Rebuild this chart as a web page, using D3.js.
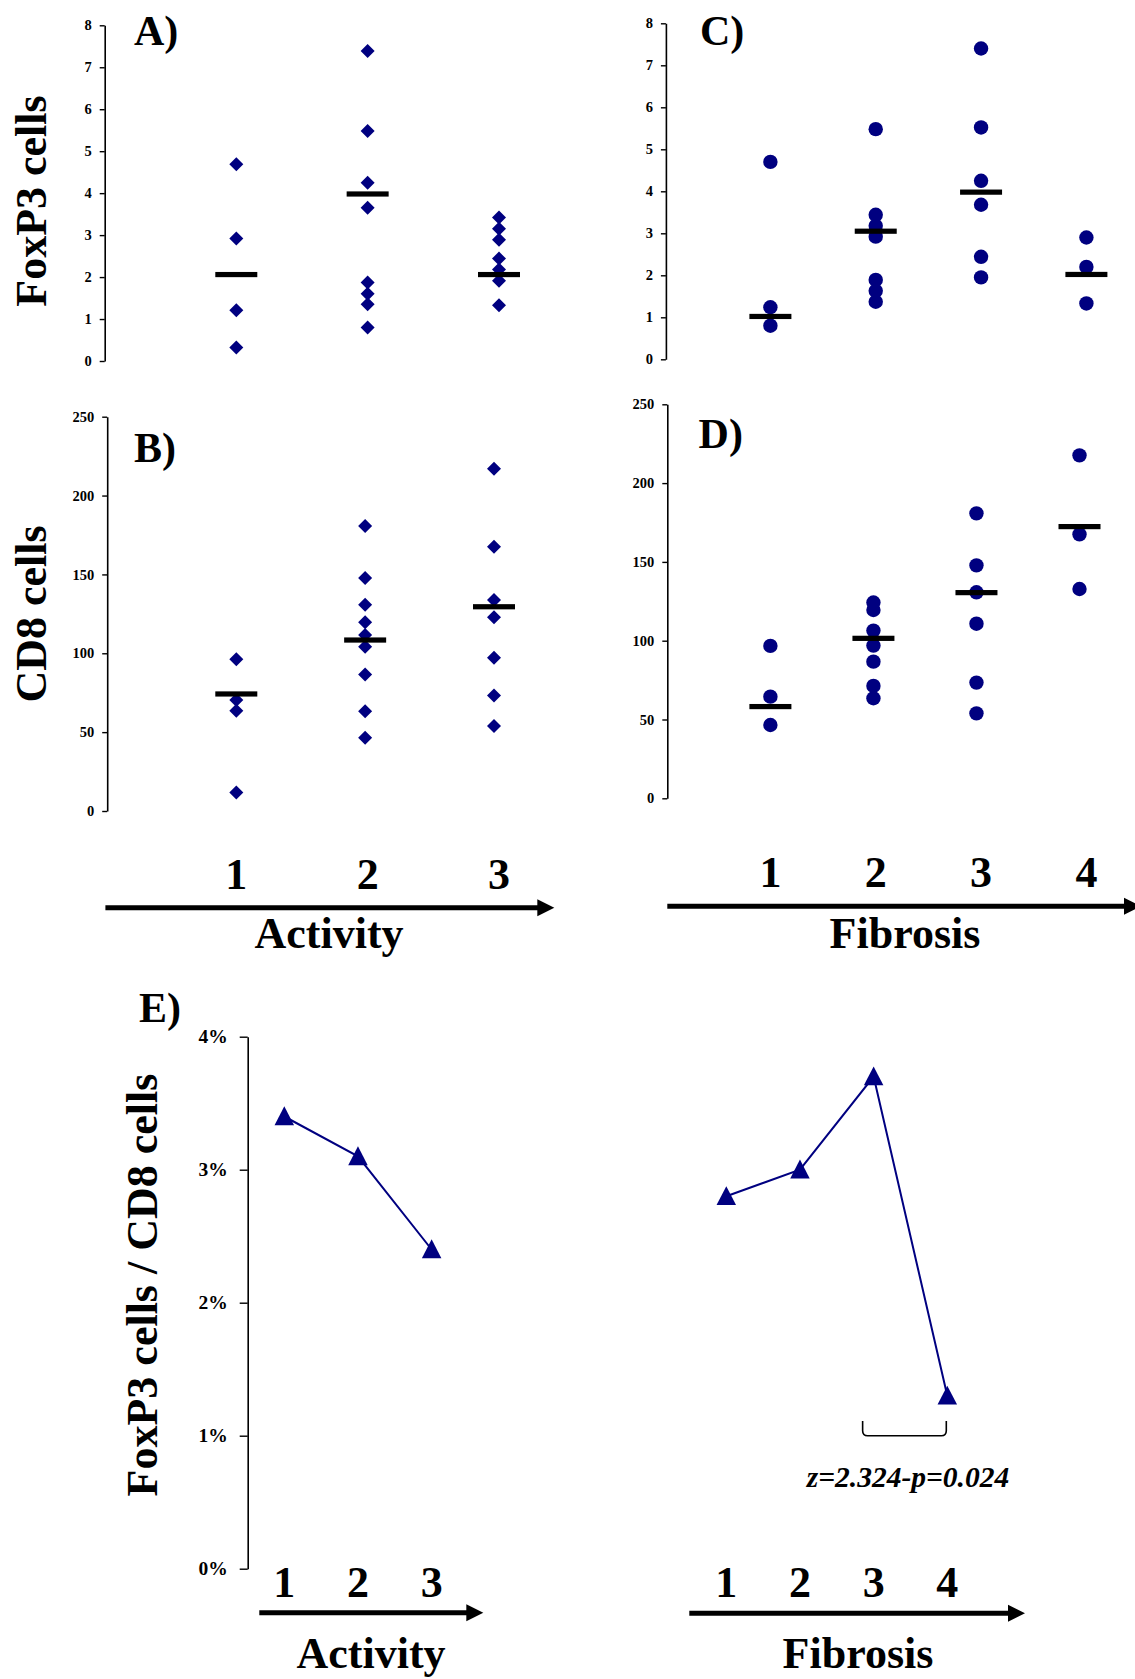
<!DOCTYPE html>
<html><head><meta charset="utf-8">
<script src="https://cdn.jsdelivr.net/npm/d3@7"></script>
<style>
body{margin:0;background:#fff}
svg{display:block}
text{font-family:"Liberation Serif","Times New Roman",serif;font-weight:bold;fill:#000}
</style>
</head><body>
<svg id="c" width="1135" height="1679"></svg>
<script>
// ---------------- data ----------------
const activityCats = ["1", "2", "3"];
const fibrosisCats = ["1", "2", "3", "4"];

const foxp3Ticks = [0, 1, 2, 3, 4, 5, 6, 7, 8];
const cd8Ticks = [0, 50, 100, 150, 200, 250];
const ratioTicks = [0, 0.01, 0.02, 0.03, 0.04];

const foxp3ByActivity = [
  [4.69, 2.92, 1.21, 0.32],
  [7.39, 5.48, 4.25, 3.65, 1.87, 1.60, 1.35, 0.80],
  [3.42, 3.15, 2.89, 2.44, 2.18, 1.91, 1.33]
];
const foxp3ActivityBar = [2.06, 3.98, 2.06];

const foxp3ByFibrosis = [
  [4.70, 1.24, 0.80],
  [5.48, 3.44, 3.18, 2.92, 1.89, 1.63, 1.37],
  [7.40, 5.52, 4.25, 3.68, 2.44, 1.95],
  [2.90, 2.20, 1.33]
];
const foxp3FibrosisBar = [1.02, 3.05, 3.98, 2.02];

const cd8ByActivity = [
  [96.2, 70.4, 63.6, 11.8],
  [180.7, 147.7, 130.8, 119.6, 111.6, 104.2, 86.6, 63.2, 46.5],
  [217.0, 167.6, 133.8, 122.8, 97.2, 73.3, 53.9]
];
const cd8ActivityBar = [74.2, 108.4, 129.5];

const cd8ByFibrosis = [
  [96.7, 64.5, 46.5],
  [124.2, 119.5, 106.4, 96.9, 86.7, 71.3, 63.5],
  [180.8, 147.8, 130.7, 110.8, 73.4, 53.9],
  [217.6, 167.5, 132.8]
];
const cd8FibrosisBar = [58.2, 101.5, 130.5, 172.4];

const ratioActivity = [0.034, 0.031, 0.024];
const ratioFibrosis = [0.028, 0.030, 0.037, 0.013];

const annotationText = "z=2.324-p=0.024";

// ---------------- drawing ----------------
const svg = d3.select("#c");
const NAVY = "#000080";

const diamondType = {
  draw(ctx, size) {
    const r = Math.sqrt(size) / 2;
    ctx.moveTo(0, -r); ctx.lineTo(r, 0); ctx.lineTo(0, r); ctx.lineTo(-r, 0); ctx.closePath();
  }
};
const triangleType = {
  draw(ctx, size) {
    const w = Math.sqrt(size);
    ctx.moveTo(0, -w * 0.52); ctx.lineTo(w / 2, w * 0.45); ctx.lineTo(-w / 2, w * 0.45); ctx.closePath();
  }
};

function scatterPanel(cfg) {
  const g = svg.append("g");
  const x = d3.scalePoint().domain(cfg.cats).range(cfg.xRange);
  const y = d3.scaleLinear().domain(cfg.yDomain).range(cfg.yRange);
  const ax = g.append("g")
    .attr("transform", `translate(${cfg.axisX},0)`)
    .call(d3.axisLeft(y).tickValues(cfg.ticks).tickSize(5).tickSizeOuter(0).tickPadding(8));
  ax.select(".domain").attr("stroke", "#000").attr("stroke-width", 1.6);
  ax.selectAll(".tick line").attr("stroke", "#000").attr("stroke-width", 1.4);
  ax.selectAll(".tick text").attr("font-size", 14.5).attr("font-family", "Liberation Serif").attr("font-weight", "bold").attr("fill", "#000");

  const pts = [];
  cfg.data.forEach((arr, i) => arr.forEach(v => pts.push({ c: cfg.cats[i], v })));
  if (cfg.shape === "diamond") {
    g.selectAll("path.pt").data(pts).join("path").attr("class", "pt")
      .attr("d", d3.symbol().type(diamondType).size(196))
      .attr("transform", d => `translate(${x(d.c)},${y(d.v)})`)
      .attr("fill", NAVY);
  } else {
    g.selectAll("circle.pt").data(pts).join("circle").attr("class", "pt")
      .attr("cx", d => x(d.c)).attr("cy", d => y(d.v)).attr("r", 7.2)
      .attr("fill", NAVY);
  }
  g.selectAll("rect.bar").data(cfg.bars).join("rect").attr("class", "bar")
    .attr("x", (d, i) => x(cfg.cats[i]) - 21).attr("width", 42)
    .attr("y", d => y(d) - 2.6).attr("height", 5.2)
    .attr("fill", "#000");

  g.append("text").attr("x", cfg.labelPos[0]).attr("y", cfg.labelPos[1])
    .attr("font-size", 42).text(cfg.label);
  return x;
}

const xA = scatterPanel({
  cats: activityCats, xRange: [236.3, 499], yDomain: [0, 8], yRange: [361, 25.3],
  axisX: 104.7, ticks: foxp3Ticks, data: foxp3ByActivity, bars: foxp3ActivityBar,
  shape: "diamond", label: "A)", labelPos: [134, 45]
});
scatterPanel({
  cats: activityCats, xRange: [236.3, 494], yDomain: [0, 250], yRange: [811, 416.7],
  axisX: 107.2, ticks: cd8Ticks, data: cd8ByActivity, bars: cd8ActivityBar,
  shape: "diamond", label: "B)", labelPos: [134, 462]
});
const xC = scatterPanel({
  cats: fibrosisCats, xRange: [770.4, 1086.4], yDomain: [0, 8], yRange: [359.3, 23.3],
  axisX: 665.9, ticks: foxp3Ticks, data: foxp3ByFibrosis, bars: foxp3FibrosisBar,
  shape: "circle", label: "C)", labelPos: [700, 45]
});
scatterPanel({
  cats: fibrosisCats, xRange: [770.4, 1079.5], yDomain: [0, 250], yRange: [798.3, 404.3],
  axisX: 667.3, ticks: cd8Ticks, data: cd8ByFibrosis, bars: cd8FibrosisBar,
  shape: "circle", label: "D)", labelPos: [698.6, 448]
});

// y titles
function yTitle(text, xb, yc) {
  svg.append("text").attr("transform", `translate(${xb},${yc}) rotate(-90)`)
    .attr("text-anchor", "middle").attr("font-size", 44).text(text);
}
yTitle("FoxP3 cells", 46, 201);
yTitle("CD8 cells", 46, 614);
yTitle("FoxP3 cells / CD8 cells", 157, 1285);

// arrows
function arrow(x0, x1, y) {
  svg.append("line").attr("x1", x0).attr("x2", x1 - 14).attr("y1", y).attr("y2", y)
    .attr("stroke", "#000").attr("stroke-width", 5);
  svg.append("path").attr("d", `M${x1},${y}L${x1 - 17},${y - 8.5}L${x1 - 17},${y + 8.5}Z`).attr("fill", "#000");
}
function catLabels(xs, cats, y, size) {
  svg.append("g").selectAll("text").data(cats).join("text")
    .attr("x", d => xs(d)).attr("y", y).attr("text-anchor", "middle")
    .attr("font-size", size).text(d => d);
}
catLabels(xA, activityCats, 889, 44);
catLabels(xC, fibrosisCats, 887, 44);
arrow(105.4, 554.3, 907.7);
arrow(667.3, 1141, 906.3);
svg.append("text").attr("x", 329).attr("y", 948).attr("text-anchor", "middle").attr("font-size", 44).text("Activity");
svg.append("text").attr("x", 905).attr("y", 948).attr("text-anchor", "middle").attr("font-size", 44).text("Fibrosis");

// ---------------- panel E ----------------
const slots = activityCats.map(c => "a" + c).concat(["g1", "g2", "g3"], fibrosisCats.map(c => "f" + c));
const xE = d3.scalePoint().domain(slots).range([284.3, 947.3]);
const yE = d3.scaleLinear().domain([0, 0.04]).range([1568.7, 1036.7]);
const gE = svg.append("g");
const axE = gE.append("g").attr("transform", "translate(247.7,0)")
  .call(d3.axisLeft(yE).tickValues(ratioTicks).tickFormat(d3.format(".0%")).tickSize(8).tickSizeOuter(0).tickPadding(12));
axE.select(".domain").attr("stroke", "#000").attr("stroke-width", 1.6);
axE.selectAll(".tick line").attr("stroke", "#000").attr("stroke-width", 1.4);
axE.selectAll(".tick text").attr("font-size", 19.5).attr("font-family", "Liberation Serif").attr("font-weight", "bold").attr("fill", "#000");

const actPts = ratioActivity.map((v, i) => ({ s: "a" + activityCats[i], v }));
const fibPts = ratioFibrosis.map((v, i) => ({ s: "f" + fibrosisCats[i], v }));
const line = d3.line().x(d => xE(d.s)).y(d => yE(d.v));
[actPts, fibPts].forEach(pts => {
  gE.append("path").attr("d", line(pts)).attr("fill", "none").attr("stroke", NAVY).attr("stroke-width", 2);
  gE.selectAll(null).data(pts).join("path")
    .attr("d", d3.symbol().type(triangleType).size(380))
    .attr("transform", d => `translate(${xE(d.s)},${yE(d.v)})`)
    .attr("fill", NAVY);
});

svg.append("text").attr("x", 139).attr("y", 1021.7).attr("font-size", 42).text("E)");

// bracket between fibrosis 3 and 4
{
  const bx0 = xE("f3") - 11, bx1 = xE("f4") - 1;
  const top = yE(0.0111), bot = yE(0.01), r = 5;
  const p = d3.path();
  p.moveTo(bx0, top); p.lineTo(bx0, bot - r); p.quadraticCurveTo(bx0, bot, bx0 + r, bot);
  p.lineTo(bx1 - r, bot); p.quadraticCurveTo(bx1, bot, bx1, bot - r); p.lineTo(bx1, top);
  svg.append("path").attr("d", p.toString()).attr("fill", "none").attr("stroke", "#000").attr("stroke-width", 1.6);
}
svg.append("text").attr("x", 908).attr("y", 1486.7).attr("text-anchor", "middle")
  .attr("font-size", 29.5).attr("font-style", "italic").text(annotationText);

const xEa = c => xE("a" + c), xEf = c => xE("f" + c);
catLabels(xEa, activityCats, 1596.7, 44);
catLabels(xEf, fibrosisCats, 1596.7, 44);
arrow(259.3, 483.3, 1612.7);
arrow(689.3, 1025, 1613.3);
svg.append("text").attr("x", 371).attr("y", 1668).attr("text-anchor", "middle").attr("font-size", 44).text("Activity");
svg.append("text").attr("x", 858).attr("y", 1668).attr("text-anchor", "middle").attr("font-size", 44).text("Fibrosis");
</script>
</body></html>
